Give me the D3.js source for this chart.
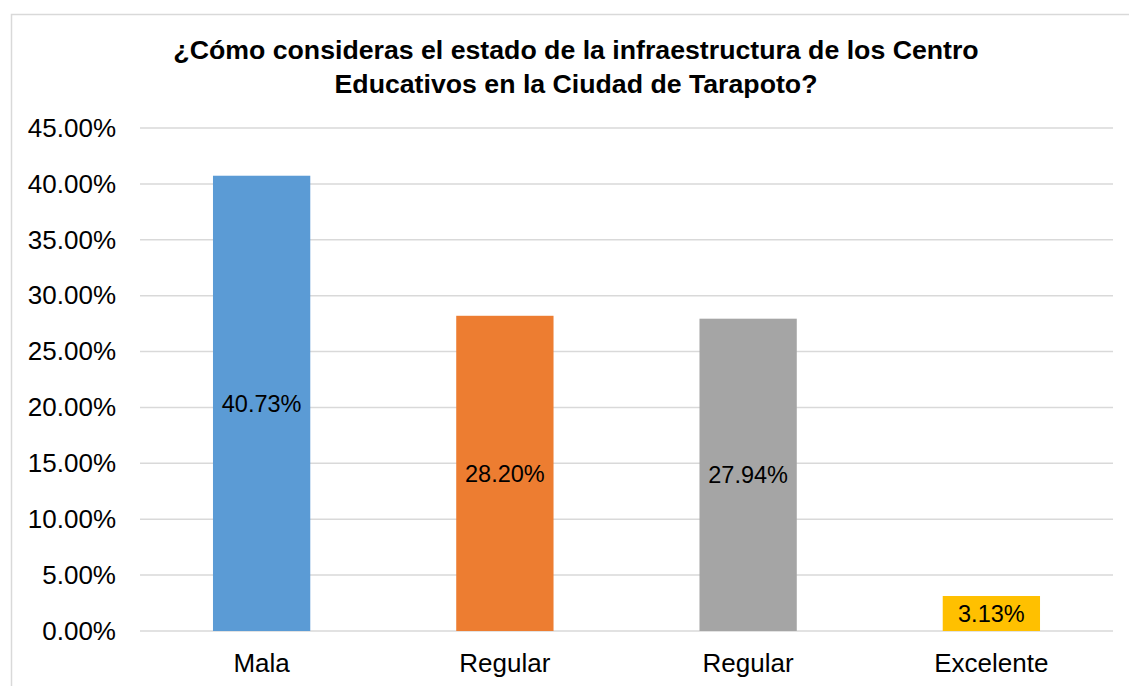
<!DOCTYPE html>
<html>
<head>
<meta charset="utf-8">
<script src="https://cdn.jsdelivr.net/npm/d3@7"></script>
<style>
  body { margin: 0; background: #fff; }
  svg { display: block; font-family: "Liberation Sans", Arial, sans-serif; }
</style>
</head>
<body>
<svg></svg>
<script>
var categories = ['Mala', 'Regular', 'Regular', 'Excelente'];
var values = [0.4073, 0.2820, 0.2794, 0.0313];
var colors = ['#5b9bd5', '#ed7d31', '#a5a5a5', '#ffc000'];
var yTicks = [0, 0.05, 0.10, 0.15, 0.20, 0.25, 0.30, 0.35, 0.40, 0.45];
var titleLines = ['¿Cómo consideras el estado de la infraestructura de los Centro',
	'Educativos en la Ciudad de Tarapoto?'];

var width = 1129, height = 686;
var svg = d3.select('svg')
	.attr('width', width)
	.attr('height', height);

// chart area border
svg.append('rect')
	.attr('x', 11.5).attr('y', 14.5)
	.attr('width', width).attr('height', height)
	.attr('fill', 'none')
	.attr('stroke', '#d9d9d9')
	.attr('stroke-width', 1.5);

var plotLeft = 140, plotRight = 1113, plotTop = 128, plotBottom = 631;

var x = d3.scaleBand()
	.domain(d3.range(categories.length))
	.range([plotLeft, plotRight])
	.paddingInner(0.6)
	.paddingOuter(0.3);

var y = d3.scaleLinear()
	.domain([0, 0.45])
	.range([plotBottom, plotTop]);

// gridlines
svg.append('g').selectAll('line')
	.data(yTicks)
	.enter().append('line')
	.attr('x1', plotLeft).attr('x2', plotRight)
	.attr('y1', function(d) { return y(d); })
	.attr('y2', function(d) { return y(d); })
	.attr('stroke', '#d9d9d9')
	.attr('stroke-width', 1.5);

// y axis labels
var yAxis = d3.axisLeft(y)
	.tickValues(yTicks)
	.tickSize(0)
	.tickPadding(0)
	.tickFormat(function(d) { return (d * 100).toFixed(2) + '%'; });

var gy = svg.append('g')
	.attr('transform', 'translate(116,0)')
	.call(yAxis);
gy.select('.domain').remove();
gy.selectAll('text')
	.attr('font-size', 26)
	.attr('font-family', '"Liberation Sans", Arial, sans-serif')
	.attr('fill', '#000');

// bars
svg.append('g').selectAll('rect')
	.data(values)
	.enter().append('rect')
	.attr('x', function(d, i) { return x(i); })
	.attr('width', x.bandwidth())
	.attr('y', function(d) { return y(d); })
	.attr('height', function(d) { return plotBottom - y(d); })
	.attr('fill', function(d, i) { return colors[i]; });

// value labels
svg.append('g').selectAll('text')
	.data(values)
	.enter().append('text')
	.attr('x', function(d, i) { return x(i) + x.bandwidth() / 2; })
	.attr('y', function(d) { return (y(d) + plotBottom) / 2; })
	.attr('dy', '0.35em')
	.attr('text-anchor', 'middle')
	.attr('font-size', 23.5)
	.attr('fill', '#000')
	.text(function(d) { return (d * 100).toFixed(2) + '%'; });

// x axis labels
var xAxis = d3.axisBottom(x)
	.tickSize(0)
	.tickPadding(0)
	.tickFormat(function(i) { return categories[i]; });

var gx = svg.append('g')
	.attr('transform', 'translate(0,' + plotBottom + ')')
	.call(xAxis);
gx.select('.domain').remove();
gx.selectAll('text')
	.attr('y', 0)
	.attr('dy', 41)
	.attr('font-size', 26)
	.attr('font-family', '"Liberation Sans", Arial, sans-serif')
	.attr('fill', '#000');

// title
svg.append('text')
	.attr('text-anchor', 'middle')
	.attr('font-size', 26.7)
	.attr('font-weight', 'bold')
	.attr('fill', '#000')
	.selectAll('tspan')
	.data(titleLines)
	.enter().append('tspan')
	.attr('x', 576)
	.attr('y', function(d, i) { return 59 + i * 34; })
	.text(function(d) { return d; });
</script>
</body>
</html>
